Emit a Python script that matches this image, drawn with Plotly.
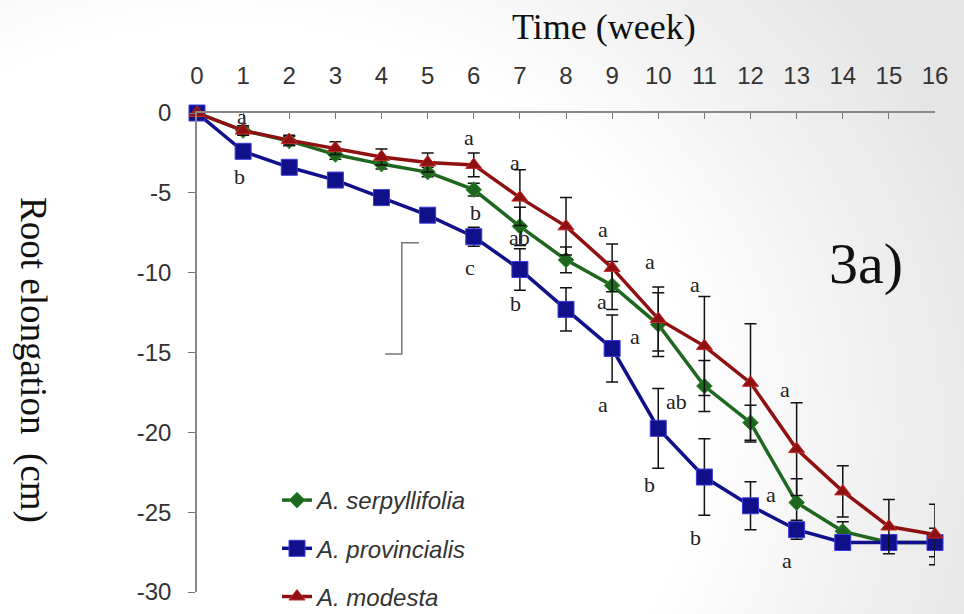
import base64
import struct
import zlib

import numpy as np
import plotly.graph_objects as go

# ---- data -------------------------------------------------------------
weeks = list(range(17))

serpyllifolia = [0, -1.1, -1.75, -2.6, -3.2, -3.7, -4.8, -7.1, -9.2, -10.8,
                 -13.25, -17.1, -19.4, -24.4, -26.2, -26.9, -26.9]
serpyllifolia_err = [0, 0.2, 0.3, 0.3, 0.3, 0.3, 0.4, 1.2, 0.8, 1.5,
                     2.0, 1.6, 1.1, 1.5, 0.6, 0.4, 0.4]

provincialis = [0, -2.4, -3.4, -4.2, -5.3, -6.4, -7.75, -9.8, -12.3, -14.75,
                -19.75, -22.8, -24.6, -26.1, -26.9, -26.9, -26.9]
provincialis_err = [0, 0.2, 0.2, 0.2, 0.3, 0.3, 0.6, 1.3, 1.35, 2.1,
                    2.5, 2.4, 1.5, 0.6, 0.4, 0.4, 0.9]

modesta = [0, -1.1, -1.7, -2.2, -2.75, -3.1, -3.25, -5.3, -7.1, -9.7,
           -12.9, -14.6, -16.9, -21.05, -23.7, -25.9, -26.4]
modesta_err = [0, 0.3, 0.3, 0.4, 0.5, 0.6, 0.75, 1.75, 1.8, 1.5,
               2.0, 3.1, 3.7, 2.9, 1.6, 1.7, 1.9]

x_ticks = list(range(0, 17))
y_ticks = [0, -5, -10, -15, -20, -25, -30]
y_tick_text = ["0", "-5", "-10", "-15", "-20", "-25", "-30"]

# significance letters: (week position, y position, text)
letters_x = [0.98, 0.93, 5.9, 6.03, 5.92, 6.9, 7.0, 6.9, 8.8, 8.78, 8.8,
             9.82, 9.5, 10.4, 9.82, 10.8, 10.8, 12.75, 12.44, 12.8]
letters_y = [-0.25, -4.0, -1.55, -6.25, -9.7, -3.1, -7.8, -11.9, -7.3, -11.8, -18.25,
             -9.3, -14.0, -18.05, -23.25, -10.75, -26.6, -17.3, -23.9, -28.05]
letters_t = ["a", "b", "a", "b", "c", "a", "ab", "b", "a", "a", "a",
             "a", "a", "ab", "b", "a", "b", "a", "a", "a"]

# ---- page geometry ----------------------------------------------------
W, H = 964, 614
ML, MR, MT, MB = 197, 29, 113, 22
PW, PH = W - ML - MR, H - MT - MB


def gray_png(arr):
    h, w = arr.shape
    raw = b"".join(b"\x00" + row.tobytes() for row in arr.astype(np.uint8))

    def chunk(tag, data):
        c = struct.pack(">I", len(data)) + tag + data
        return c + struct.pack(">I", zlib.crc32(tag + data) & 0xFFFFFFFF)

    return (b"\x89PNG\r\n\x1a\n"
            + chunk(b"IHDR", struct.pack(">IIBBBBB", w, h, 8, 0, 0, 0, 0))
            + chunk(b"IDAT", zlib.compress(raw, 9))
            + chunk(b"IEND", b""))


# soft slide-style backdrop: white on the left, light grey to the right
yy, xx = np.mgrid[0:H, 0:W]
d = np.sqrt((xx - 230.0) ** 2 + ((yy - 430.0) * 1.15) ** 2)
t = np.clip((d - 470.0) / 330.0, 0, 1)
bg = 255 - 26 * t
bg_uri = "data:image/png;base64," + base64.b64encode(gray_png(bg)).decode()

fig = go.Figure()

series = [
    ("<i>A. serpyllifolia</i>", serpyllifolia, serpyllifolia_err,
     "#1f661f", "#2f8a2f", "diamond", 12),
    ("<i>A. provincialis</i>", provincialis, provincialis_err,
     "#10108a", "#3a3ad8", "square", 16),
    ("<i>A. modesta</i>", modesta, modesta_err,
     "#8e1010", "#c42a2a", "triangle-up", 14),
]

for i, (name, ys, err, col, edge, sym, size) in enumerate(series):
    fig.add_trace(go.Scatter(
        x=weeks, y=ys, name=name, mode="lines+markers",
        line=dict(color=col, width=3.5),
        marker=dict(symbol=sym, size=size, color=col,
                    line=dict(color=edge, width=1)),
        error_y=dict(type="data", array=err, visible=True,
                     color="#111111", thickness=1.5, width=6),
        cliponaxis=False, legendgroup=f"g{i}",
    ))

serif = "Liberation Serif, Times New Roman, serif"

for lx, ly, lt in zip(letters_x, letters_y, letters_t):
    fig.add_annotation(x=lx, y=ly, text=lt, showarrow=False,
                       xanchor="center", yanchor="middle",
                       font=dict(family=serif, size=22, color="#222222"))

# panel tag
fig.add_annotation(x=14.5, y=-9.4, text="3a)", showarrow=False,
                   xanchor="center", yanchor="middle",
                   font=dict(family=serif, size=58, color="#111111"))

# axis titles
fig.add_annotation(xref="paper", yref="paper", x=(604 - ML) / PW,
                   y=1 + (MT - 27) / PH, text="Time (week)", showarrow=False,
                   xanchor="center", yanchor="middle",
                   font=dict(family=serif, size=36, color="#111111"))
fig.add_annotation(xref="paper", yref="paper", x=-(ML - 33) / PW,
                   y=1 - (360 - MT) / PH,
                   text="Root elongation  (cm)", textangle=90, showarrow=False,
                   xanchor="center", yanchor="middle",
                   font=dict(family=serif, size=37, color="#111111"))

# bracket drawn on the slide
fig.add_shape(type="path", xref="x", yref="y",
              path="M 4.81,-8.125 L 4.44,-8.125 L 4.44,-15.1 L 4.08,-15.1",
              line=dict(color="#777777", width=1.5))

fig.add_layout_image(source=bg_uri, xref="paper", yref="paper",
                     x=-ML / PW, y=1 + MT / PH, sizex=W / PW, sizey=H / PH,
                     xanchor="left", yanchor="top", sizing="stretch",
                     layer="below")

tick_font = dict(family="Liberation Sans, Arial, sans-serif", size=24,
                 color="#333333")
fig.update_layout(
    width=W, height=H,
    margin=dict(l=ML, r=MR, t=MT, b=MB, autoexpand=False),
    paper_bgcolor="white", plot_bgcolor="rgba(0,0,0,0)",
    showlegend=True,
    legend=dict(x=(277 - ML) / PW, y=1 - (478 - MT) / PH,
                xanchor="left", yanchor="top",
                bgcolor="rgba(0,0,0,0)", tracegroupgap=14,
                font=dict(family="Liberation Sans, Arial, sans-serif",
                          size=24, color="#333333")),
    xaxis=dict(range=[0, 16], side="top", tickvals=x_ticks,
               ticks="inside", ticklen=6, tickcolor="#777777",
               showline=True, linecolor="#888888", linewidth=1.5,
               showgrid=False, zeroline=False, tickfont=tick_font,
               ticklabelstandoff=18),
    yaxis=dict(range=[-30, 0], tickvals=y_ticks, ticktext=y_tick_text,
               ticks="outside", ticklen=7, tickcolor="#777777",
               showline=True, linecolor="#888888", linewidth=1.5,
               showgrid=False, zeroline=False, tickfont=tick_font,
               ticklabelstandoff=12),
)

fig.write_html("out.html")
